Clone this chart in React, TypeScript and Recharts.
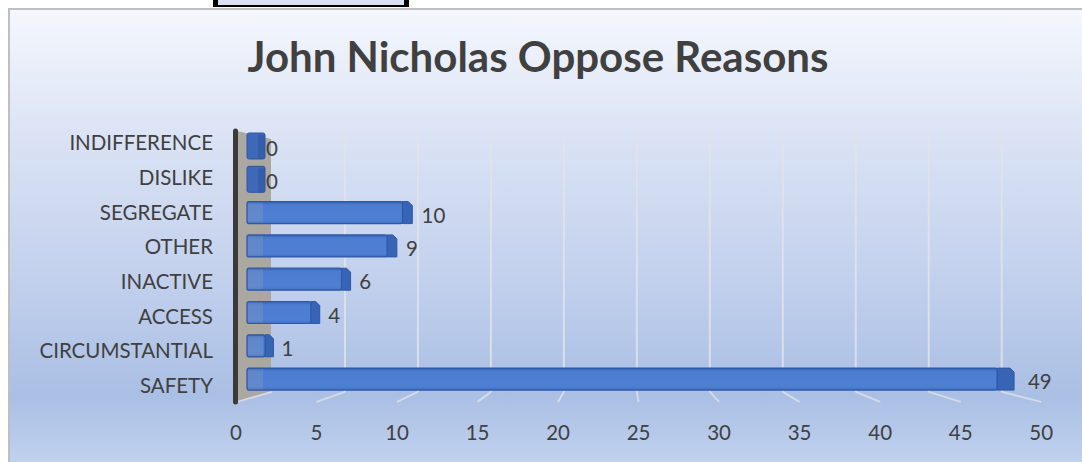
import React from 'react';
import { BarChart, Bar, XAxis, YAxis, ReferenceArea, LabelList } from 'recharts';

// chart data, top row first
const categories = ['INDIFFERENCE', 'DISLIKE', 'SEGREGATE', 'OTHER', 'INACTIVE', 'ACCESS', 'CIRCUMSTANTIAL', 'SAFETY'];
const values = [0, 0, 10, 9, 6, 4, 1, 49];
const xTicks = [0, 5, 10, 15, 20, 25, 30, 35, 40, 45, 50];

const data = categories.map((name, i) => ({ name, value: values[i] }));

const FONT = 'Lato, "Open Sans", sans-serif';
const TEXT = '#404040';

// fake 3d: back wall, floor and grid lines around the plot area
const Backdrop = (props: any) => {
  const { x, y, width, height } = props;
  const unit = width / 50;
  const back = (v: number) => x + 22 + v * unit * 0.957;
  const front = (v: number) => x - 14 + v * unit * 1.056;
  const top = y + 6;
  const floorBack = y + height - 3.5;
  const floorFront = y + height + 6.5;
  return (
    <g>
      {xTicks.map((v) => (
        <g key={v}>
          {v > 0 && (
            <line x1={back(v)} x2={back(v)} y1={top} y2={floorBack} stroke="#e1e4ea" strokeWidth={2} opacity={0.85} />
          )}
          <line x1={back(v)} y1={floorBack} x2={front(v)} y2={floorFront} stroke="#e1e4ea" strokeWidth={2} opacity={0.75} />
        </g>
      ))}
      <polygon
        points={`${x - 13},${y + 2} ${x + 21},${y + 10} ${x + 21},${floorBack - 1} ${x - 13},${floorFront - 1}`}
        fill="#aaa8a1"
      />
      <line x1={x - 14.5} x2={x - 14.5} y1={y + 2} y2={floorFront} stroke="#3a3a3a" strokeWidth={5} strokeLinecap="round" />
    </g>
  );
};

const Bar3D = (props: any) => {
  const { x, y, width, height, payload } = props;
  const v = payload.value;
  if (!v) {
    return (
      <g>
        <rect x={x - 3} y={y - 2} width={18} height={height + 4} rx={2} fill="#3e69b9" stroke="#2d58a6" strokeWidth={1} />
        <rect x={x + 8} y={y} width={7} height={height + 2} fill="#2f5aa6" opacity={0.7} />
      </g>
    );
  }
  const cap = 8 + v * 0.18;
  const x1 = x + width;
  return (
    <g>
      <defs>
        <linearGradient id="barFace" x1="0" y1="0" x2="0" y2="1">
          <stop offset="0" stopColor="#3562b3" />
          <stop offset="0.15" stopColor="#4d7dd0" />
          <stop offset="0.85" stopColor="#4f7fd2" />
          <stop offset="1" stopColor="#416fc2" />
        </linearGradient>
      </defs>
      <rect x={x - 3} y={y} width={width + 3} height={height} rx={2} fill="url(#barFace)" stroke="#2d58a6" strokeWidth={1.2} />
      <rect x={x - 2} y={y + 1} width={15} height={height - 2} fill="#b8b5ad" opacity={0.18} />
      <polygon
        points={`${x1},${y} ${x1 + cap - 4},${y} ${x1 + cap},${y + 4} ${x1 + cap},${y + height} ${x1},${y + height}`}
        fill="#3864b5"
        stroke="#2d58a6"
        strokeWidth={1}
      />
    </g>
  );
};

const ValueLabel = (props: any) => {
  const { x, y, width, height, value } = props;
  return (
    <text x={x + width + 16 + value * 0.3} y={y + height / 2 + 10} fill={TEXT} fontFamily={FONT} fontSize={20.5}>
      {value}
    </text>
  );
};

const CategoryTick = (props: any) => {
  const { x, y, payload, index } = props;
  return (
    <text x={x} y={y - 3 + index * 1.43 + 7.4} textAnchor="end" fill={TEXT} fontFamily={FONT} fontSize={20.5}>
      {payload.value}
    </text>
  );
};

const ValueTick = (props: any) => {
  const { x, y, payload } = props;
  // labels sit on the front edge of the floor, slightly wider than the bars
  const lx = 236 + (x - 250) * 1.056;
  return (
    <text x={lx} y={y} dy={44.6} textAnchor="middle" fill={TEXT} fontFamily={FONT} fontSize={20.5}>
      {payload.value}
    </text>
  );
};

export default function App() {
  return (
    <div style={{ position: 'absolute', left: 0, top: 0, width: 1082, height: 462, overflow: 'hidden', background: '#fff' }}>
      <div
        style={{
          position: 'absolute',
          left: 8,
          top: 8,
          width: 1100,
          height: 470,
          borderLeft: '2px solid #bfbfbf',
          borderTop: '2px solid #bfbfbf',
          background:
            'linear-gradient(to bottom, #f4f7fd 0%, #e9eef9 12%, #dce4f5 25%, #c6d3ee 53%, #aabfe4 82%, #c6d6f0 100%)',
        }}
      />
      <div
        style={{
          position: 'absolute',
          left: 213,
          top: -4,
          width: 186,
          height: 9,
          background: '#dbe0f2',
          borderLeft: '5px solid #000',
          borderRight: '5px solid #000',
          borderBottom: '2.5px solid #000',
        }}
      />
      <div
        style={{
          position: 'absolute',
          left: 0,
          top: 31,
          width: 1076,
          textAlign: 'center',
          fontFamily: FONT,
          fontWeight: 700,
          fontSize: 42,
          lineHeight: '50px',
          color: TEXT,
        }}
      >
        John Nicholas Oppose Reasons
      </div>
      <div style={{ position: 'absolute', left: 0, top: 0 }}>
        <BarChart
          width={1082}
          height={462}
          data={data}
          layout="vertical"
          margin={{ top: 129, right: 69.5, bottom: 16.6, left: 0 }}
        >
          <ReferenceArea x1={0} x2={50} ifOverflow="visible" shape={Backdrop} zIndex={-50} />
          <XAxis
            type="number"
            domain={[0, 50]}
            ticks={xTicks}
            height={50}
            axisLine={false}
            tickLine={false}
            tickSize={0}
            tickMargin={0}
            tick={<ValueTick />}
            interval={0}
          />
          <YAxis
            type="category"
            dataKey="name"
            width={250}
            axisLine={false}
            tickLine={false}
            tickSize={0}
            tickMargin={37}
            tick={<CategoryTick />}
            interval={0}
          />
          <Bar dataKey="value" barSize={22} shape={Bar3D} isAnimationActive={false}>
            <LabelList dataKey="value" content={<ValueLabel />} />
          </Bar>
        </BarChart>
      </div>
    </div>
  );
}
